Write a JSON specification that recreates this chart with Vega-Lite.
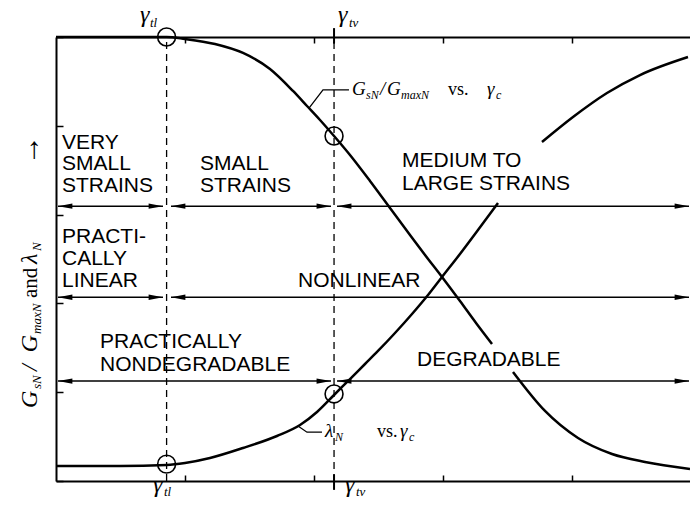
{
  "$schema": "https://vega.github.io/schema/vega-lite/v6.json",
  "width": 634,
  "height": 444,
  "autosize": {"type": "none"},
  "padding": {"left": 56, "top": 37, "right": 0, "bottom": 27},
  "background": "white",
  "config": {
    "view": {"stroke": null},
    "axis": {"grid": false, "labels": false, "domainColor": "black", "tickColor": "black", "domainWidth": 2, "tickWidth": 1.5},
    "axisY": {"tickCount": 5, "tickSize": -7},
    "axisX": {"tickSize": -6}
  },
  "datasets": {
    "vlines": [{"x": 7.2e-5, "lo": 0, "hi": 1}, {"x": 1.43e-3, "lo": 0, "hi": 1}],
    "vticks": [{"x": 1.43e-3, "v1": 0.985, "v2": 1.02}, {"x": 1.43e-3, "v1": -0.02, "v2": 0.015}],
    "gcurve": [
      {"x": 1e-5, "v": 1.0, "seg": "a"}, {"x": 3.133e-5, "v": 1.0, "seg": "a"}, {"x": 7.2e-5, "v": 1.0, "seg": "a"},
      {"x": 1e-4, "v": 0.9955, "seg": "a"}, {"x": 1.708e-4, "v": 0.9842, "seg": "a"}, {"x": 2.816e-4, "v": 0.964, "seg": "a"},
      {"x": 4.559e-4, "v": 0.9279, "seg": "a"}, {"x": 6.874e-4, "v": 0.8784, "seg": "a"}, {"x": 8.824e-4, "v": 0.8446, "seg": "a"},
      {"x": 1.113e-3, "v": 0.8131, "seg": "a"}, {"x": 1.43e-3, "v": 0.777, "seg": "a"}, {"x": 1.901e-3, "v": 0.7342, "seg": "a"},
      {"x": 2.717e-3, "v": 0.6757, "seg": "a"}, {"x": 3.882e-3, "v": 0.6149, "seg": "a"}, {"x": 5.548e-3, "v": 0.5541, "seg": "a"},
      {"x": 7.253e-3, "v": 0.509, "seg": "a"}, {"x": 9.822e-3, "v": 0.4595, "seg": "a"}, {"x": 1.354e-2, "v": 0.4054, "seg": "a"},
      {"x": 1.803e-2, "v": 0.3559, "seg": "a"}, {"x": 2.398e-2, "v": 0.3086, "seg": "a"},
      {"x": 3.488e-2, "v": 0.2455, "seg": "b"}, {"x": 6.175e-2, "v": 0.1577, "seg": "b"}, {"x": 0.1113, "v": 0.0968, "seg": "b"},
      {"x": 0.2042, "v": 0.0608, "seg": "b"}, {"x": 0.368, "v": 0.0428, "seg": "b"}, {"x": 0.8216, "v": 0.027, "seg": "b"}
    ],
    "lcurve": [
      {"x": 1e-5, "v": 0.0338, "seg": "a"}, {"x": 3.133e-5, "v": 0.0338, "seg": "a"}, {"x": 7.2e-5, "v": 0.036, "seg": "a"},
      {"x": 1e-4, "v": 0.0405, "seg": "a"}, {"x": 1.562e-4, "v": 0.0518, "seg": "a"}, {"x": 2.816e-4, "v": 0.0743, "seg": "a"},
      {"x": 5.165e-4, "v": 0.1014, "seg": "a"}, {"x": 7.789e-4, "v": 0.1261, "seg": "a"}, {"x": 1.055e-3, "v": 0.1554, "seg": "a"},
      {"x": 1.43e-3, "v": 0.1937, "seg": "a"}, {"x": 1.901e-3, "v": 0.2297, "seg": "a"}, {"x": 2.485e-3, "v": 0.2635, "seg": "a"},
      {"x": 3.133e-3, "v": 0.2928, "seg": "a"}, {"x": 4.245e-3, "v": 0.3333, "seg": "a"}, {"x": 5.752e-3, "v": 0.3761, "seg": "a"},
      {"x": 7.651e-3, "v": 0.4189, "seg": "a"}, {"x": 9.822e-3, "v": 0.4595, "seg": "a"}, {"x": 1.354e-2, "v": 0.5113, "seg": "a"},
      {"x": 1.867e-2, "v": 0.5653, "seg": "a"}, {"x": 2.669e-2, "v": 0.6261, "seg": "a"},
      {"x": 5.853e-2, "v": 0.7635, "seg": "b"}, {"x": 0.1018, "v": 0.8198, "seg": "b"}, {"x": 0.1867, "v": 0.8739, "seg": "b"},
      {"x": 0.3366, "v": 0.9144, "seg": "b"}, {"x": 0.7926, "v": 0.955, "seg": "b"}
    ],
    "leaders": [
      {"x": 9.146e-4, "v": 0.84, "seg": "g"}, {"x": 1.174e-3, "v": 0.881, "seg": "g"}, {"x": 1.867e-3, "v": 0.881, "seg": "g"},
      {"x": 7.516e-4, "v": 0.124, "seg": "l"}, {"x": 8.823e-4, "v": 0.11, "seg": "l"}, {"x": 1.153e-3, "v": 0.11, "seg": "l"}
    ],
    "circles": [{"x": 7.2e-5, "v": 1.0}, {"x": 1.43e-3, "v": 0.777}, {"x": 7.2e-5, "v": 0.038}, {"x": 1.43e-3, "v": 0.196}],
    "arrows": [
      {"x1": 1.036e-5, "x2": 6.752e-5, "v": 0.619}, {"x1": 7.789e-5, "x2": 1.354e-3, "v": 0.619}, {"x1": 1.508e-3, "x2": 0.807, "v": 0.619},
      {"x1": 1.036e-5, "x2": 6.752e-5, "v": 0.414}, {"x1": 7.789e-5, "x2": 0.807, "v": 0.414},
      {"x1": 1.036e-5, "x2": 1.354e-3, "v": 0.225}, {"x1": 1.508e-3, "x2": 0.807, "v": 0.225}
    ],
    "labels": [
      {"x": 1.113e-5, "v": 0.7477, "text": "VERY"}, {"x": 1.113e-5, "v": 0.7005, "text": "SMALL"}, {"x": 1.113e-5, "v": 0.6509, "text": "STRAINS"},
      {"x": 1.307e-4, "v": 0.7005, "text": "SMALL"}, {"x": 1.307e-4, "v": 0.6509, "text": "STRAINS"},
      {"x": 4.811e-3, "v": 0.7072, "text": "MEDIUM TO"}, {"x": 4.811e-3, "v": 0.6554, "text": "LARGE STRAINS"},
      {"x": 1.113e-5, "v": 0.536, "text": "PRACTI-"}, {"x": 1.113e-5, "v": 0.4865, "text": "CALLY"}, {"x": 1.113e-5, "v": 0.4369, "text": "LINEAR"},
      {"x": 7.516e-4, "v": 0.4369, "text": "NONLINEAR"},
      {"x": 2.193e-5, "v": 0.2995, "text": "PRACTICALLY"}, {"x": 2.193e-5, "v": 0.2477, "text": "NONDEGRADABLE"},
      {"x": 6.286e-3, "v": 0.259, "text": "DEGRADABLE"}
    ],
    "annBig": [
      {"x": 1.971e-3, "v": 0.869, "text": "G"}, {"x": 3.248e-3, "v": 0.869, "text": "/"}, {"x": 3.68e-3, "v": 0.869, "text": "G"},
      {"x": 0.02193, "v": 0.869, "text": "γ"}, {"x": 1.217e-3, "v": 0.099, "text": "λ"}, {"x": 4.642e-3, "v": 0.099, "text": "γ"}
    ],
    "annSub": [
      {"x": 2.53e-3, "v": 0.86, "text": "sN"}, {"x": 4.726e-3, "v": 0.86, "text": "maxN"}, {"x": 0.02576, "v": 0.86, "text": "c"},
      {"x": 1.455e-3, "v": 0.09, "text": "N"}, {"x": 5.45e-3, "v": 0.09, "text": "c"}
    ],
    "annPlain": [{"x": 0.01093, "v": 0.869, "text": "vs."}, {"x": 3.079e-3, "v": 0.099, "text": "vs."}],
    "gamBig": [
      {"x": 4.479e-5, "v": 1.034, "text": "γ"}, {"x": 1.535e-3, "v": 1.034, "text": "γ"},
      {"x": 5.648e-5, "v": -0.0248, "text": "γ"}, {"x": 1.739e-3, "v": -0.0248, "text": "γ"}
    ],
    "gamSub": [
      {"x": 5.355e-5, "v": 1.0225, "text": "tl"}, {"x": 1.867e-3, "v": 1.0225, "text": "tv"},
      {"x": 6.874e-5, "v": -0.0338, "text": "tl"}, {"x": 2.116e-3, "v": -0.0338, "text": "tv"}
    ],
    "ytBig": [
      {"x": 7.122e-6, "v": 0.1644, "text": "G"}, {"x": 7.122e-6, "v": 0.2477, "text": "/"},
      {"x": 7.122e-6, "v": 0.29, "text": "G"}, {"x": 7.122e-6, "v": 0.4887, "text": "λ"}
    ],
    "ytSub": [
      {"x": 7.65e-6, "v": 0.2072, "text": "sN"}, {"x": 7.65e-6, "v": 0.3311, "text": "maxN"}, {"x": 7.65e-6, "v": 0.518, "text": "N"}
    ],
    "ytPlain": [{"x": 7.122e-6, "v": 0.4122, "text": "and"}],
    "ytArrow": [{"x": 7.35e-6, "v": 0.7117, "text": "→"}]
  },
  "layer": [
    {
      "data": {"name": "vlines"},
      "mark": {"type": "rule", "strokeDash": [7, 5], "strokeWidth": 1.3, "color": "black"},
      "encoding": {
        "x": {"field": "x", "type": "quantitative", "title": null,
              "scale": {"type": "log", "domain": [1e-5, 0.8216], "nice": false},
              "axis": {"orient": "top", "values": [0.0001, 0.001, 0.01, 0.1]}},
        "y": {"field": "lo", "type": "quantitative", "title": null, "scale": {"domain": [0, 1], "nice": false, "zero": false}},
        "y2": {"field": "hi"}
      }
    },
    {
      "data": {"name": "vticks"},
      "mark": {"type": "rule", "strokeWidth": 2, "color": "black"},
      "encoding": {
        "x": {"field": "x", "type": "quantitative", "title": null, "axis": null},
        "y": {"field": "v1", "type": "quantitative", "title": null},
        "y2": {"field": "v2"}
      }
    },
    {
      "data": {"name": "gcurve"},
      "mark": {"type": "line", "interpolate": "monotone", "strokeWidth": 2.5, "color": "black"},
      "encoding": {
        "x": {"field": "x", "type": "quantitative", "title": null, "axis": {"orient": "bottom", "values": [0.0001, 0.001, 0.01, 0.1]}},
        "y": {"field": "v", "type": "quantitative", "title": null},
        "detail": {"field": "seg"}
      }
    },
    {
      "data": {"name": "lcurve"},
      "mark": {"type": "line", "interpolate": "monotone", "strokeWidth": 2.5, "color": "black"},
      "encoding": {
        "x": {"field": "x", "type": "quantitative", "title": null, "axis": null},
        "y": {"field": "v", "type": "quantitative", "title": null},
        "detail": {"field": "seg"}
      }
    },
    {
      "data": {"name": "leaders"},
      "mark": {"type": "line", "strokeWidth": 1.3, "color": "black"},
      "encoding": {
        "x": {"field": "x", "type": "quantitative", "title": null, "axis": null},
        "y": {"field": "v", "type": "quantitative", "title": null},
        "detail": {"field": "seg"}
      }
    },
    {
      "data": {"name": "circles"},
      "mark": {"type": "point", "shape": "circle", "size": 320, "filled": false, "strokeWidth": 1.6, "color": "black", "opacity": 1},
      "encoding": {
        "x": {"field": "x", "type": "quantitative", "title": null, "axis": null},
        "y": {"field": "v", "type": "quantitative", "title": null}
      }
    },
    {
      "data": {"name": "arrows"},
      "mark": {"type": "rule", "strokeWidth": 1.5, "color": "black"},
      "encoding": {
        "x": {"field": "x1", "type": "quantitative", "title": null, "axis": null},
        "x2": {"field": "x2"},
        "y": {"field": "v", "type": "quantitative", "title": null}
      }
    },
    {
      "data": {"name": "arrows"},
      "mark": {"type": "point", "shape": "M0,0L2.4,-0.45L2.4,0.45Z", "size": 144, "filled": true, "color": "black", "opacity": 1, "strokeWidth": 0},
      "encoding": {
        "x": {"field": "x1", "type": "quantitative", "title": null, "axis": null},
        "y": {"field": "v", "type": "quantitative", "title": null}
      }
    },
    {
      "data": {"name": "arrows"},
      "mark": {"type": "point", "shape": "M0,0L-2.4,-0.45L-2.4,0.45Z", "size": 144, "filled": true, "color": "black", "opacity": 1, "strokeWidth": 0},
      "encoding": {
        "x": {"field": "x2", "type": "quantitative", "title": null, "axis": null},
        "y": {"field": "v", "type": "quantitative", "title": null}
      }
    },
    {
      "data": {"name": "labels"},
      "mark": {"type": "text", "font": "Liberation Sans", "fontSize": 21, "align": "left", "baseline": "alphabetic", "color": "black"},
      "encoding": {
        "x": {"field": "x", "type": "quantitative", "title": null, "axis": null},
        "y": {"field": "v", "type": "quantitative", "title": null},
        "text": {"field": "text"}
      }
    },
    {
      "data": {"name": "annBig"},
      "mark": {"type": "text", "font": "Liberation Serif", "fontStyle": "italic", "fontSize": 19, "align": "left", "baseline": "alphabetic", "color": "black"},
      "encoding": {
        "x": {"field": "x", "type": "quantitative", "title": null, "axis": null},
        "y": {"field": "v", "type": "quantitative", "title": null},
        "text": {"field": "text"}
      }
    },
    {
      "data": {"name": "annSub"},
      "mark": {"type": "text", "font": "Liberation Serif", "fontStyle": "italic", "fontSize": 12, "align": "left", "baseline": "alphabetic", "color": "black"},
      "encoding": {
        "x": {"field": "x", "type": "quantitative", "title": null, "axis": null},
        "y": {"field": "v", "type": "quantitative", "title": null},
        "text": {"field": "text"}
      }
    },
    {
      "data": {"name": "annPlain"},
      "mark": {"type": "text", "font": "Liberation Serif", "fontSize": 18, "align": "left", "baseline": "alphabetic", "color": "black"},
      "encoding": {
        "x": {"field": "x", "type": "quantitative", "title": null, "axis": null},
        "y": {"field": "v", "type": "quantitative", "title": null},
        "text": {"field": "text"}
      }
    },
    {
      "data": {"name": "gamBig"},
      "mark": {"type": "text", "font": "Liberation Serif", "fontStyle": "italic", "fontSize": 24, "align": "left", "baseline": "alphabetic", "color": "black"},
      "encoding": {
        "x": {"field": "x", "type": "quantitative", "title": null, "axis": null},
        "y": {"field": "v", "type": "quantitative", "title": null},
        "text": {"field": "text"}
      }
    },
    {
      "data": {"name": "gamSub"},
      "mark": {"type": "text", "font": "Liberation Serif", "fontStyle": "italic", "fontSize": 13, "align": "left", "baseline": "alphabetic", "color": "black"},
      "encoding": {
        "x": {"field": "x", "type": "quantitative", "title": null, "axis": null},
        "y": {"field": "v", "type": "quantitative", "title": null},
        "text": {"field": "text"}
      }
    },
    {
      "data": {"name": "ytBig"},
      "mark": {"type": "text", "angle": 270, "font": "Liberation Serif", "fontStyle": "italic", "fontSize": 24, "align": "left", "baseline": "alphabetic", "color": "black"},
      "encoding": {
        "x": {"field": "x", "type": "quantitative", "title": null, "axis": null},
        "y": {"field": "v", "type": "quantitative", "title": null},
        "text": {"field": "text"}
      }
    },
    {
      "data": {"name": "ytSub"},
      "mark": {"type": "text", "angle": 270, "font": "Liberation Serif", "fontStyle": "italic", "fontSize": 13, "align": "left", "baseline": "alphabetic", "color": "black"},
      "encoding": {
        "x": {"field": "x", "type": "quantitative", "title": null, "axis": null},
        "y": {"field": "v", "type": "quantitative", "title": null},
        "text": {"field": "text"}
      }
    },
    {
      "data": {"name": "ytPlain"},
      "mark": {"type": "text", "angle": 270, "font": "Liberation Serif", "fontSize": 21, "align": "left", "baseline": "alphabetic", "color": "black"},
      "encoding": {
        "x": {"field": "x", "type": "quantitative", "title": null, "axis": null},
        "y": {"field": "v", "type": "quantitative", "title": null},
        "text": {"field": "text"}
      }
    },
    {
      "data": {"name": "ytArrow"},
      "mark": {"type": "text", "angle": 270, "font": "Noto Sans", "fontSize": 30, "align": "left", "baseline": "alphabetic", "color": "black"},
      "encoding": {
        "x": {"field": "x", "type": "quantitative", "title": null, "axis": null},
        "y": {"field": "v", "type": "quantitative", "title": null},
        "text": {"field": "text"}
      }
    }
  ],
  "resolve": {"axis": {"x": "independent"}}
}
